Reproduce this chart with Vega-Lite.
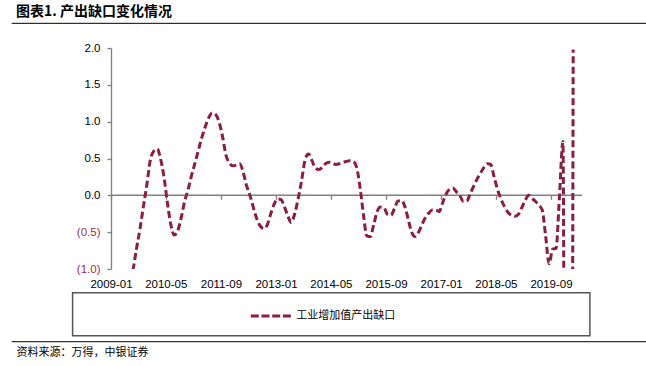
{
  "$schema": "https://vega.github.io/schema/vega-lite/v6.json",
  "width": 471,
  "height": 221,
  "autosize": {"type": "none"},
  "padding": {"left": 111, "top": 48, "right": 64, "bottom": 97},
  "background": "white",
  "title": {
    "text": "图表1. 产出缺口变化情况",
    "anchor": "start",
    "frame": "group",
    "dx": -95,
    "offset": 4,
    "font": "Noto Sans CJK SC",
    "fontSize": 14,
    "fontWeight": "bold",
    "color": "#000000"
  },
  "config": {"view": {"stroke": null}},
  "datasets": {
    "gap": [
      {"date": "2009-07-15", "value": -1.02},
      {"date": "2009-08-15", "value": -0.72},
      {"date": "2009-09-15", "value": -0.45},
      {"date": "2009-10-15", "value": -0.15},
      {"date": "2009-11-15", "value": 0.15},
      {"date": "2009-12-15", "value": 0.48},
      {"date": "2010-01-15", "value": 0.6},
      {"date": "2010-02-15", "value": 0.63},
      {"date": "2010-03-15", "value": 0.5},
      {"date": "2010-04-15", "value": 0.25},
      {"date": "2010-05-15", "value": -0.1},
      {"date": "2010-06-15", "value": -0.4},
      {"date": "2010-07-15", "value": -0.54},
      {"date": "2010-08-15", "value": -0.48},
      {"date": "2010-09-15", "value": -0.3},
      {"date": "2010-10-15", "value": -0.08},
      {"date": "2010-11-15", "value": 0.08},
      {"date": "2010-12-15", "value": 0.27},
      {"date": "2011-01-15", "value": 0.44},
      {"date": "2011-02-15", "value": 0.62},
      {"date": "2011-03-15", "value": 0.78},
      {"date": "2011-04-15", "value": 0.93},
      {"date": "2011-05-15", "value": 1.05},
      {"date": "2011-06-15", "value": 1.12},
      {"date": "2011-07-15", "value": 1.1},
      {"date": "2011-08-15", "value": 1.0},
      {"date": "2011-09-15", "value": 0.8},
      {"date": "2011-10-15", "value": 0.55},
      {"date": "2011-11-15", "value": 0.44},
      {"date": "2011-12-15", "value": 0.4},
      {"date": "2012-01-15", "value": 0.41},
      {"date": "2012-02-15", "value": 0.43},
      {"date": "2012-03-15", "value": 0.32},
      {"date": "2012-04-15", "value": 0.13},
      {"date": "2012-05-15", "value": 0.0},
      {"date": "2012-06-15", "value": -0.17},
      {"date": "2012-07-15", "value": -0.32},
      {"date": "2012-08-15", "value": -0.42},
      {"date": "2012-09-15", "value": -0.45},
      {"date": "2012-10-15", "value": -0.4},
      {"date": "2012-11-15", "value": -0.25},
      {"date": "2012-12-15", "value": -0.12},
      {"date": "2013-01-15", "value": -0.05},
      {"date": "2013-02-15", "value": -0.06},
      {"date": "2013-03-15", "value": -0.15},
      {"date": "2013-04-15", "value": -0.28},
      {"date": "2013-05-15", "value": -0.37},
      {"date": "2013-06-15", "value": -0.25},
      {"date": "2013-07-15", "value": -0.05},
      {"date": "2013-08-15", "value": 0.2},
      {"date": "2013-09-15", "value": 0.48},
      {"date": "2013-10-15", "value": 0.56},
      {"date": "2013-11-15", "value": 0.47},
      {"date": "2013-12-15", "value": 0.37},
      {"date": "2014-01-15", "value": 0.35},
      {"date": "2014-02-15", "value": 0.38},
      {"date": "2014-03-15", "value": 0.43},
      {"date": "2014-04-15", "value": 0.45},
      {"date": "2014-05-15", "value": 0.44},
      {"date": "2014-06-15", "value": 0.42},
      {"date": "2014-07-15", "value": 0.43},
      {"date": "2014-08-15", "value": 0.45},
      {"date": "2014-09-15", "value": 0.46},
      {"date": "2014-10-15", "value": 0.47},
      {"date": "2014-11-15", "value": 0.46},
      {"date": "2014-12-15", "value": 0.38},
      {"date": "2015-01-15", "value": 0.1},
      {"date": "2015-02-15", "value": -0.28},
      {"date": "2015-03-15", "value": -0.55},
      {"date": "2015-04-15", "value": -0.56},
      {"date": "2015-05-15", "value": -0.4},
      {"date": "2015-06-15", "value": -0.22},
      {"date": "2015-07-15", "value": -0.16},
      {"date": "2015-08-15", "value": -0.17},
      {"date": "2015-09-15", "value": -0.26},
      {"date": "2015-10-15", "value": -0.27},
      {"date": "2015-11-15", "value": -0.18},
      {"date": "2015-12-15", "value": -0.08},
      {"date": "2016-01-15", "value": -0.07},
      {"date": "2016-02-15", "value": -0.15},
      {"date": "2016-03-15", "value": -0.32},
      {"date": "2016-04-15", "value": -0.5},
      {"date": "2016-05-15", "value": -0.56},
      {"date": "2016-06-15", "value": -0.5},
      {"date": "2016-07-15", "value": -0.4},
      {"date": "2016-08-15", "value": -0.3},
      {"date": "2016-09-15", "value": -0.24},
      {"date": "2016-10-15", "value": -0.2},
      {"date": "2016-11-15", "value": -0.2},
      {"date": "2016-12-15", "value": -0.22},
      {"date": "2017-01-15", "value": -0.1},
      {"date": "2017-02-15", "value": 0.02},
      {"date": "2017-03-15", "value": 0.08},
      {"date": "2017-04-15", "value": 0.1},
      {"date": "2017-05-15", "value": 0.05},
      {"date": "2017-06-15", "value": 0.0},
      {"date": "2017-07-15", "value": -0.08},
      {"date": "2017-08-15", "value": -0.08},
      {"date": "2017-09-15", "value": 0.02},
      {"date": "2017-10-15", "value": 0.12},
      {"date": "2017-11-15", "value": 0.22},
      {"date": "2017-12-15", "value": 0.3},
      {"date": "2018-01-15", "value": 0.38},
      {"date": "2018-02-15", "value": 0.43},
      {"date": "2018-03-15", "value": 0.42},
      {"date": "2018-04-15", "value": 0.25},
      {"date": "2018-05-15", "value": 0.08},
      {"date": "2018-06-15", "value": -0.05},
      {"date": "2018-07-15", "value": -0.15},
      {"date": "2018-08-15", "value": -0.23},
      {"date": "2018-09-15", "value": -0.27},
      {"date": "2018-10-15", "value": -0.285},
      {"date": "2018-11-15", "value": -0.26},
      {"date": "2018-12-15", "value": -0.17},
      {"date": "2019-01-15", "value": -0.07},
      {"date": "2019-02-15", "value": 0.0},
      {"date": "2019-03-15", "value": -0.04},
      {"date": "2019-04-15", "value": -0.08},
      {"date": "2019-05-15", "value": -0.13},
      {"date": "2019-06-15", "value": -0.2},
      {"date": "2019-07-15", "value": -0.55},
      {"date": "2019-08-15", "value": -0.93},
      {"date": "2019-09-15", "value": -0.73},
      {"date": "2019-10-15", "value": -0.72},
      {"date": "2019-11-15", "value": 0.0},
      {"date": "2019-12-15", "value": 0.73},
      {"date": "2020-01-15", "value": -11},
      {"date": "2020-02-15", "value": -11},
      {"date": "2020-03-15", "value": 1.98}
    ]
  },
  "layer": [
    {
      "data": {"values": [{}]},
      "layer": [
        {
          "mark": {"type": "rule", "stroke": "#000000", "strokeWidth": 1, "clip": false},
          "encoding": {
            "x": {"datum": {"year": 2006, "month": 8, "date": 6, "utc": true}, "type": "temporal", "scale": {"type": "utc", "domain": [{"year": 2009, "month": 1, "date": 1, "utc": true}, {"year": 2020, "month": 6, "date": 1, "utc": true}]}, "axis": null},
            "x2": {"datum": {"year": 2022, "month": 1, "date": 1, "utc": true}},
            "y": {"datum": 2.335, "type": "quantitative", "scale": {"domain": [-1, 2], "nice": false, "zero": false}, "axis": null}
          }
        },
        {
          "mark": {"type": "rule", "stroke": "#000000", "strokeWidth": 1, "clip": false},
          "encoding": {
            "x": {"datum": {"year": 2006, "month": 8, "date": 6, "utc": true}, "type": "temporal", "axis": null},
            "x2": {"datum": {"year": 2022, "month": 1, "date": 1, "utc": true}},
            "y": {"datum": -1.987, "type": "quantitative", "axis": null}
          }
        },
        {
          "mark": {"type": "rect", "filled": false, "stroke": "#555555", "strokeWidth": 1.5, "clip": false},
          "encoding": {
            "x": {"datum": {"year": 2008, "month": 1, "date": 27, "utc": true}, "type": "temporal", "axis": null},
            "x2": {"datum": {"year": 2020, "month": 8, "date": 10, "utc": true}},
            "y": {"datum": -1.322, "type": "quantitative", "axis": null},
            "y2": {"datum": -1.905}
          }
        }
      ]
    },
    {
      "data": {"values": [{}]},
      "mark": {"type": "rule", "stroke": "#808080", "strokeWidth": 1.5, "clip": false},
      "encoding": {
        "x": {
          "datum": {"year": 2009, "month": 1, "date": 1, "utc": true},
          "type": "temporal",
          "axis": {
            "orient": "bottom",
            "offset": -73.67,
            "domain": false,
            "labels": false,
            "grid": false,
            "ticks": true,
            "tickSize": 4,
            "tickColor": "#808080",
            "tickWidth": 1.3,
            "title": null,
            "values": [
              {"year": 2009, "month": 1, "date": 1, "utc": true},
              {"year": 2010, "month": 5, "date": 1, "utc": true},
              {"year": 2011, "month": 9, "date": 1, "utc": true},
              {"year": 2013, "month": 1, "date": 1, "utc": true},
              {"year": 2014, "month": 5, "date": 1, "utc": true},
              {"year": 2015, "month": 9, "date": 1, "utc": true},
              {"year": 2017, "month": 1, "date": 1, "utc": true},
              {"year": 2018, "month": 5, "date": 1, "utc": true},
              {"year": 2019, "month": 9, "date": 1, "utc": true}
            ]
          }
        },
        "x2": {"datum": {"year": 2020, "month": 6, "date": 1, "utc": true}},
        "y": {"datum": 0, "type": "quantitative", "axis": null}
      }
    },
    {
      "data": {"name": "gap"},
      "mark": {"type": "line", "strokeWidth": 3, "strokeDash": [7, 3.5], "interpolate": "monotone", "clip": true},
      "encoding": {
        "x": {
          "field": "date",
          "type": "temporal",
          "axis": {
            "orient": "bottom",
            "domain": false,
            "ticks": false,
            "grid": false,
            "labelPadding": 9,
            "labelFlush": false,
            "labelOverlap": false,
            "format": "%Y-%m",
            "labelFont": "Liberation Sans",
            "labelFontSize": 11.5,
            "labelColor": "#000000",
            "values": [
              {"year": 2009, "month": 1, "date": 1, "utc": true},
              {"year": 2010, "month": 5, "date": 1, "utc": true},
              {"year": 2011, "month": 9, "date": 1, "utc": true},
              {"year": 2013, "month": 1, "date": 1, "utc": true},
              {"year": 2014, "month": 5, "date": 1, "utc": true},
              {"year": 2015, "month": 9, "date": 1, "utc": true},
              {"year": 2017, "month": 1, "date": 1, "utc": true},
              {"year": 2018, "month": 5, "date": 1, "utc": true},
              {"year": 2019, "month": 9, "date": 1, "utc": true}
            ],
            "title": "资料来源：万得，中银证券",
            "titleFont": "Noto Sans CJK SC",
            "titleFontSize": 11,
            "titleFontWeight": "normal",
            "titleColor": "#000000",
            "titleX": -95,
            "titleY": 83,
            "titleAlign": "left",
            "titleBaseline": "middle",
            "titleAngle": 0
          }
        },
        "y": {
          "field": "value",
          "type": "quantitative",
          "axis": {
            "orient": "left",
            "values": [-1, -0.5, 0, 0.5, 1, 1.5, 2],
            "labelExpr": "datum.value < 0 ? '(' + format(-datum.value, '.1f') + ')' : format(datum.value, '.1f')",
            "labelColor": {"condition": {"test": "datum.value < 0", "value": "#9b2d4a"}, "value": "#000000"},
            "labelFont": "Liberation Sans",
            "labelFontSize": 11.5,
            "labelPadding": 7,
            "domainColor": "#808080",
            "domainWidth": 1.3,
            "tickColor": "#808080",
            "tickSize": 4,
            "tickWidth": 1.3,
            "grid": false,
            "title": null
          }
        },
        "color": {
          "datum": "工业增加值产出缺口",
          "type": "nominal",
          "scale": {"range": ["#8c1c40"]},
          "legend": {
            "orient": "none",
            "legendX": 138.3,
            "legendY": 246.5,
            "title": null,
            "padding": 0,
            "symbolType": "stroke",
            "symbolSize": 1600,
            "symbolStrokeWidth": 3,
            "symbolDash": [8, 2.7],
            "labelFont": "Noto Sans CJK SC",
            "labelFontSize": 11,
            "labelColor": "#000000",
            "labelOffset": 4
          }
        }
      }
    }
  ],
  "resolve": {"axis": {"x": "independent", "y": "independent"}}
}
